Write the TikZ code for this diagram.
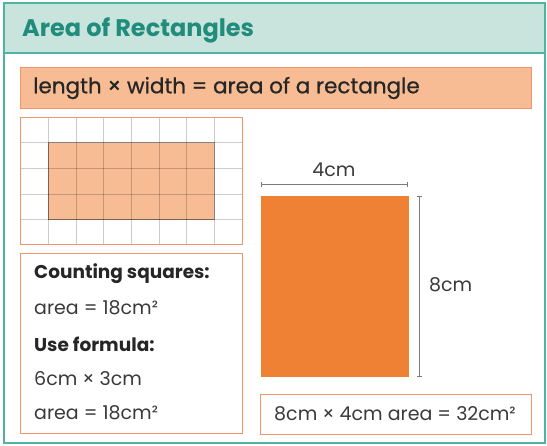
\documentclass[tikz,border=0pt]{standalone}
\usepackage{fontspec}
\setmainfont{Poppins}
\newfontfamily\medfont[FakeBold=0.7]{Poppins}
\usetikzlibrary{arrows.meta}
\definecolor{tealline}{HTML}{4DB3A2}
\definecolor{headfill}{HTML}{C9E4DD}
\definecolor{titlecol}{HTML}{1F8C7C}
\definecolor{lightor}{HTML}{F8BC94}
\definecolor{orline}{HTML}{F2946A}
\definecolor{darkor}{HTML}{EE8133}
\definecolor{txt}{HTML}{3A3A3A}
\definecolor{dimcol}{HTML}{7A7A7A}
\tikzset{
  obox/.style={draw=orline, line width=1.2pt},
  bodytext/.style={text=txt, font=\fontsize{19}{22}\selectfont, anchor=west, inner sep=0pt},
  boldtext/.style={bodytext, text=black!85, font=\fontsize{18.5}{22}\selectfont\bfseries},
  dimline/.style={draw=dimcol, line width=1pt, {Bar[width=5pt]}-{Bar[width=5pt]}},
}
\begin{document}
\begin{tikzpicture}[x=1pt,y=-1pt]
\useasboundingbox (0,0) rectangle (547,446);
% outer frame and header
\fill[white] (4,3) rectangle (545,443);
\fill[headfill] (4,3) rectangle (545,53);
\draw[tealline, line width=1.5pt] (4,53) -- (545,53);
\draw[tealline, line width=1.5pt] (4,3) rectangle (545,443);
\node[anchor=west, inner sep=0pt, text=titlecol, font=\fontsize{24}{28}\selectfont\bfseries] (title) at (22,30) {Area of Rectangles};
% formula banner
\node[obox, fill=lightor, minimum width=511pt, minimum height=41pt, anchor=north west, inner sep=0pt] (formula) at (20,67) {};
\node[bodytext, text=black!85, font=\fontsize{21.5}{25}\medfont] (ftext) at (33,88) {length × width = area of a rectangle};
% grid box
\begin{scope}
\fill[lightor] (48,143) rectangle (214,220);
\foreach \x in {48,76,103,131,159,186,214} \draw[black, opacity=0.2, line width=1pt] (\x,117) -- (\x,244);
\foreach \y in {143,169,195,220} \draw[black, opacity=0.2, line width=1pt] (20,\y) -- (242,\y);
\draw[black, opacity=0.35, line width=1pt] (48,143) rectangle (214,220);
\end{scope}
\node[obox, minimum width=222pt, minimum height=127pt, anchor=north west, inner sep=0pt] (grid) at (20,117) {};
% text box
\node[obox, minimum width=222pt, minimum height=180pt, anchor=north west, inner sep=0pt] (tbox) at (20,253) {};
\node[boldtext] (l1) at (34,274) {Counting squares:};
\node[bodytext] (l2) at (34,308) {area = 18cm²};
\node[boldtext] (l3) at (34,344) {Use formula:};
\node[bodytext] (l4) at (34,379) {6cm × 3cm};
\node[bodytext] (l5) at (34,413) {area = 18cm²};
% big rectangle
\node[fill=darkor, minimum width=148pt, minimum height=181pt, anchor=north west, inner sep=0pt] (big) at (261,196) {};
\coordinate (tl) at (261,185);
\coordinate (tr) at (408,185);
\coordinate (rt) at (419,196);
\coordinate (rb) at (419,377);
\draw[dimline] (tl) -- (tr);
\draw[dimline] (rt) -- (rb);
\node[bodytext, anchor=center] (w) at (334,170) {4cm};
\node[bodytext, anchor=west] (h) at (429,285) {8cm};
% answer box
\node[obox, minimum width=271pt, minimum height=40pt, anchor=north west, inner sep=0pt] (ans) at (260,394) {};
\node[bodytext, anchor=center] (atext) at (395,414) {8cm × 4cm area = 32cm²};
\end{tikzpicture}
\end{document}
